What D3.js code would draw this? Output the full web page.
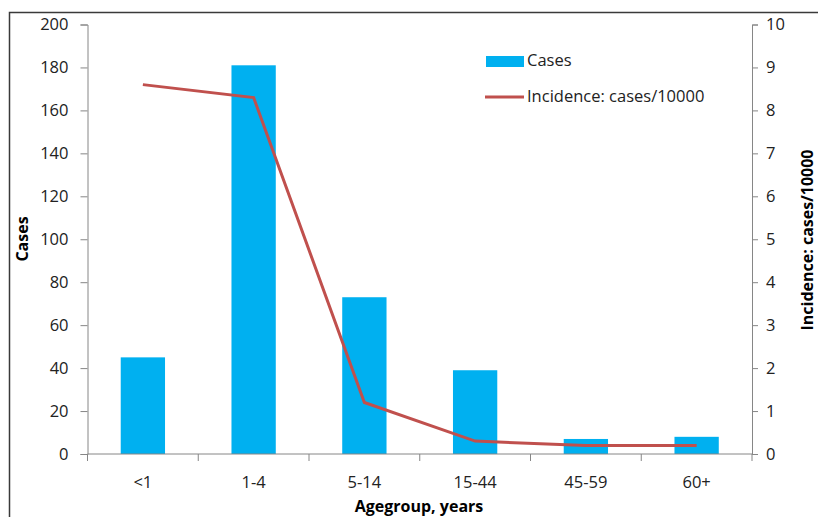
<!DOCTYPE html>
<html>
<head>
<meta charset="utf-8">
<script src="https://cdn.jsdelivr.net/npm/d3@7"></script>
<style>
  body { margin: 0; background: #fff; }
  svg { font-family: "Open Sans", "Noto Sans", sans-serif; }
</style>
</head>
<body>
<div id="chart"></div>
<script>
// Chart data
var ageGroups = ["<1", "1-4", "5-14", "15-44", "45-59", "60+"];
var cases = [45, 181, 73, 39, 7, 8];
var incidence = [8.6, 8.3, 1.2, 0.3, 0.2, 0.2];
var leftTicks = [0, 20, 40, 60, 80, 100, 120, 140, 160, 180, 200];
var rightTicks = [0, 1, 2, 3, 4, 5, 6, 7, 8, 9, 10];

var W = 818, H = 517;
var margin = { top: 24.5, right: 66, bottom: 63, left: 87.5 },
    width = 752 - margin.left,
    height = 454 - margin.top;

var svg = d3.select("#chart")
  .append("svg")
    .attr("width", W)
    .attr("height", H);

// outer frame (only left/top edges visible)
svg.append("rect")
    .attr("x", 9.5).attr("y", 12.5)
    .attr("width", 900).attr("height", 600)
    .attr("fill", "none")
    .attr("stroke", "#3a3a3a")
    .attr("stroke-width", 1.5);

var g = svg.append("g")
    .attr("transform", `translate(${margin.left},${margin.top})`);

var x = d3.scaleBand()
    .domain(ageGroups)
    .range([0, width]);

var y = d3.scaleLinear().domain([0, 200]).range([height, 0]);
var y2 = d3.scaleLinear().domain([0, 10]).range([height, 0]);

// Bars
g.selectAll("rect.bar")
  .data(ageGroups)
  .enter()
  .append("rect")
    .attr("class", "bar")
    .attr("x", function(d) { return x(d) + x.bandwidth() * 0.3; })
    .attr("width", x.bandwidth() * 0.4)
    .attr("y", function(d, i) { return y(cases[i]); })
    .attr("height", function(d, i) { return height - y(cases[i]); })
    .attr("fill", "#00B0F0");

// Axes
var axisColor = "#868686";
function styleAxis(sel) {
  sel.select(".domain").attr("stroke", axisColor);
  sel.selectAll(".tick line").attr("stroke", axisColor);
  sel.selectAll(".tick text")
    .attr("fill", "#222")
    .style("font-size", "16.5px")
    .style("font-family", "Open Sans, sans-serif");
}

var left = g.append("g")
  .call(d3.axisLeft(y).tickValues(leftTicks).tickSize(7).tickSizeOuter(7).tickPadding(12));
styleAxis(left);

var right = g.append("g")
  .attr("transform", `translate(${width},0)`)
  .call(d3.axisRight(y2).tickValues(rightTicks).tickSize(6).tickSizeOuter(6).tickPadding(8));
styleAxis(right);

// bottom axis with ticks at band boundaries
var bottom = g.append("g")
  .attr("transform", `translate(0,${height})`);
bottom.append("line")
  .attr("x1", 0).attr("x2", width)
  .attr("y1", 0).attr("y2", 0)
  .attr("stroke", axisColor);
bottom.selectAll("line.tk")
  .data(ageGroups.concat(["end"]))
  .enter()
  .append("line")
    .attr("class", "tk")
    .attr("x1", function(d, i) { return i < ageGroups.length ? x(d) : width; })
    .attr("x2", function(d, i) { return i < ageGroups.length ? x(d) : width; })
    .attr("y1", 0).attr("y2", 7)
    .attr("stroke", axisColor);
bottom.selectAll("text")
  .data(ageGroups)
  .enter()
  .append("text")
    .attr("x", function(d) { return x(d) + x.bandwidth() / 2; })
    .attr("y", 34)
    .attr("text-anchor", "middle")
    .attr("fill", "#222")
    .style("font-size", "16.5px")
    .text(function(d) { return d; });

// Line
var line = d3.line()
    .x(function(d, i) { return x(ageGroups[i]) + x.bandwidth() / 2; })
    .y(function(d) { return y2(d); });

g.append("path")
  .datum(incidence)
  .attr("d", line)
  .attr("fill", "none")
  .attr("stroke", "#C0504D")
  .attr("stroke-width", 3);

// Axis titles
svg.append("text")
  .attr("transform", "translate(28,239) rotate(-90)")
  .attr("text-anchor", "middle")
  .style("font-size", "16px")
  .style("font-weight", "bold")
  .text("Cases");

svg.append("text")
  .attr("transform", "translate(813,240) rotate(-90)")
  .attr("text-anchor", "middle")
  .style("font-size", "16px")
  .style("font-weight", "bold")
  .text("Incidence: cases/10000");

svg.append("text")
  .attr("x", 419)
  .attr("y", 512)
  .attr("text-anchor", "middle")
  .style("font-size", "16px")
  .style("font-weight", "bold")
  .text("Agegroup, years");

// Legend
var legend = svg.append("g");
legend.append("rect")
  .attr("x", 486).attr("y", 56)
  .attr("width", 38).attr("height", 11)
  .attr("fill", "#00B0F0");
legend.append("text")
  .attr("x", 527).attr("y", 66)
  .style("font-size", "16.5px")
  .attr("fill", "#222")
  .text("Cases");
legend.append("line")
  .attr("x1", 485).attr("x2", 524)
  .attr("y1", 97).attr("y2", 97)
  .attr("stroke", "#C0504D")
  .attr("stroke-width", 3);
legend.append("text")
  .attr("x", 527).attr("y", 102)
  .style("font-size", "16.5px")
  .attr("fill", "#222")
  .text("Incidence: cases/10000");
</script>
</body>
</html>
